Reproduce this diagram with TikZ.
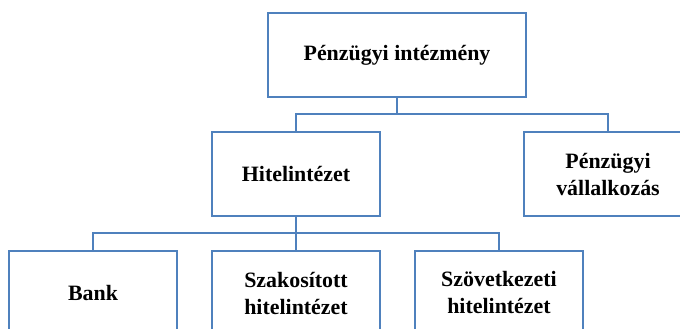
\documentclass[tikz,border=0pt]{standalone}
\usepackage{fontspec}
\setmainfont{Liberation Serif}
\definecolor{boxblue}{HTML}{4F81BD}
\begin{document}
\begin{tikzpicture}[x=1pt,y=-1pt,
  box/.style={draw=boxblue, line width=2pt, fill=white,
    minimum width=168pt, minimum height=84pt, inner sep=0pt,
    align=center, font=\bfseries\fontsize{21.9}{27}\selectfont},
  link/.style={draw=boxblue, line width=2pt}]
\useasboundingbox (0,0) rectangle (680,329);
\clip (0,0) rectangle (680,329);
\fill[white] (0,0) rectangle (680,329);

% root
\node[box, minimum width=258pt, minimum height=83pt] (top) at (397,55) {Pénzügyi intézmény};

% second level
\node[box] (hitel) at (296,174) {Hitelintézet};
\node[box] (vall) at (608,174) {Pénzügyi\\vállalkozás};

% third level
\node[box] (bank) at (93,293) {Bank};
\node[box] (szak) at (296,293) {Szakosított\\hitelintézet};
\node[box] (szov) at (499,293) {Szövetkezeti\\hitelintézet};

% junction points of the elbow connectors
\coordinate (j1) at (397,114);
\coordinate (j2) at (296,233);

\draw[link] (top.south) -- (j1);
\draw[link] (hitel.north) |- (j1) -| (vall.north);

\draw[link] (hitel.south) -- (j2);
\draw[link] (bank.north) |- (j2) -| (szov.north);
\draw[link] (szak.north) -- (j2);
\end{tikzpicture}
\end{document}
